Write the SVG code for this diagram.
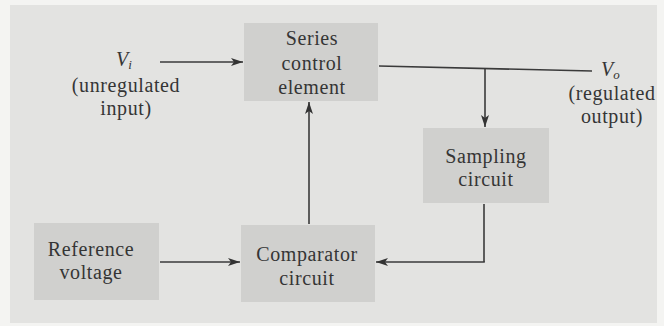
<svg xmlns="http://www.w3.org/2000/svg" width="664" height="326" viewBox="0 0 664 326">
<style>
.bg{fill:#e3e3e1}
.box{fill:#d0d0ce}
.t{font-family:"Liberation Serif","Times New Roman",serif;font-size:20px;letter-spacing:0.6px;fill:#353535;text-anchor:middle}
.i{font-style:italic;text-anchor:start;letter-spacing:0}
.w{stroke:#3a3a3a;stroke-width:1.6;fill:none}
</style>
<defs>
<marker id="ah" viewBox="0 0 12 8" refX="12" refY="4" markerWidth="12" markerHeight="8" markerUnits="userSpaceOnUse" orient="auto">
<path d="M0,0 L12,4 L0,8 L3,4 Z" fill="#333"/>
</marker>
</defs>
<rect width="664" height="326" fill="#f4f4f2"/>
<rect class="bg" x="10" y="5" width="647" height="318"/>

<g id="vi-label">
<text class="t i" x="116" y="66">V<tspan font-size="13" dy="3">i</tspan></text>
<text class="t" x="126" y="92">(unregulated</text>
<text class="t" x="126" y="115">input)</text>
</g>

<g id="series">
<rect class="box" x="244" y="23" width="134" height="78"/>
<text class="t" x="312" y="45">Series</text>
<text class="t" x="312" y="70">control</text>
<text class="t" x="312" y="94">element</text>
</g>

<g id="vo-label">
<text class="t i" x="601" y="76">V<tspan font-size="13" dy="3">o</tspan></text>
<text class="t" x="612" y="100">(regulated</text>
<text class="t" x="612" y="123">output)</text>
</g>

<g id="sampling">
<rect class="box" x="423" y="128" width="126" height="75"/>
<text class="t" x="486" y="163">Sampling</text>
<text class="t" x="486" y="186">circuit</text>
</g>

<g id="reference">
<rect class="box" x="34" y="223" width="125" height="77"/>
<text class="t" x="91" y="256">Reference</text>
<text class="t" x="91" y="279">voltage</text>
</g>

<g id="comparator">
<rect class="box" x="241" y="225" width="134" height="77"/>
<text class="t" x="307" y="261">Comparator</text>
<text class="t" x="307" y="285">circuit</text>
</g>

<g id="connectors">
<line class="w" x1="160" y1="62" x2="243" y2="62" marker-end="url(#ah)"/>
<line class="w" x1="379" y1="66" x2="592" y2="71"/>
<line class="w" x1="485" y1="68.5" x2="485" y2="127" marker-end="url(#ah)"/>
<line class="w" x1="484" y1="204" x2="484" y2="262"/>
<line class="w" x1="484.8" y1="262" x2="376" y2="262" marker-end="url(#ah)"/>
<line class="w" x1="160" y1="262" x2="240" y2="262" marker-end="url(#ah)"/>
<line class="w" x1="309" y1="224" x2="309" y2="102" marker-end="url(#ah)"/>
</g>
</svg>
